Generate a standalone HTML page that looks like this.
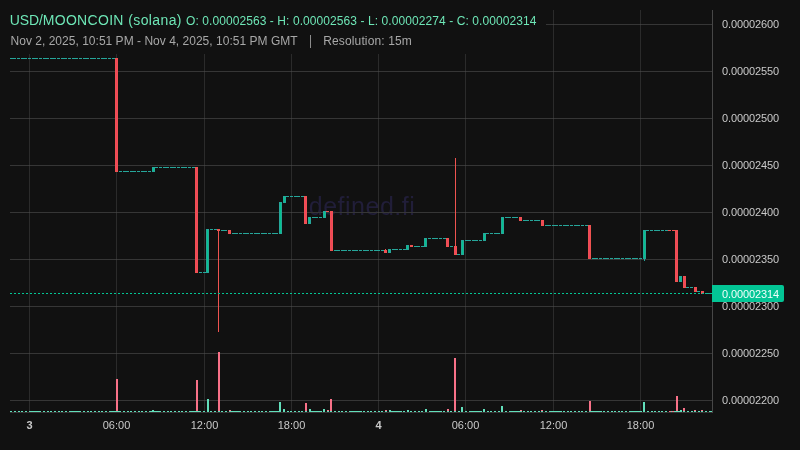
<!DOCTYPE html>
<html><head><meta charset="utf-8"><title>USD/MOONCOIN</title>
<style>
html,body{margin:0;padding:0;background:#111111;}
body{width:800px;height:450px;overflow:hidden;position:relative;font-family:"Liberation Sans",sans-serif;}
svg{position:absolute;left:0;top:0;}
#txt{position:absolute;left:0;top:0;width:800px;height:450px;will-change:transform;}
.t{position:absolute;white-space:nowrap;line-height:1;}
.pl{position:absolute;left:722px;width:60px;letter-spacing:-0.12px;font-size:11px;line-height:14px;height:14px;color:#c9c9c9;white-space:nowrap;}
.tl{position:absolute;top:418px;width:61px;text-align:center;font-size:11px;line-height:14px;color:#c9c9c9;white-space:nowrap;}
.tl.b{font-weight:bold;}
#wm{position:absolute;left:212px;top:191px;width:300px;text-align:center;font-size:25px;line-height:30px;color:#211e39;white-space:nowrap;letter-spacing:0.5px;will-change:transform;}
.h1{top:12px;font-size:14px;line-height:16px;color:#6ee7b7;}
#h1b{left:186px;top:13.5px;font-size:12px;line-height:14px;color:#6ee7b7;letter-spacing:0.08px;}
#h2{left:10.5px;top:33.5px;font-size:12px;line-height:14px;color:#a8a8a8;letter-spacing:0.02px;}
#res{left:323.2px;top:33.5px;font-size:12px;line-height:14px;color:#a8a8a8;letter-spacing:0.14px;}
#sep{position:absolute;left:310px;top:35px;width:1px;height:13px;background:#8c8c8c;}
#cur{position:absolute;left:722px;top:287px;letter-spacing:-0.12px;font-size:11px;line-height:14px;color:#f2fffb;white-space:nowrap;}
</style></head>
<body>
<div id="wm">defined.fi</div>
<svg width="800" height="450" viewBox="0 0 800 450" shape-rendering="crispEdges">
<rect x="29" y="10" width="1" height="402" fill="#2b2b2b"/>
<rect x="116" y="10" width="1" height="402" fill="#2b2b2b"/>
<rect x="204" y="10" width="1" height="402" fill="#2b2b2b"/>
<rect x="291" y="10" width="1" height="402" fill="#2b2b2b"/>
<rect x="378" y="10" width="1" height="402" fill="#2b2b2b"/>
<rect x="465" y="10" width="1" height="402" fill="#2b2b2b"/>
<rect x="553" y="10" width="1" height="402" fill="#2b2b2b"/>
<rect x="640" y="10" width="1" height="402" fill="#2b2b2b"/>
<rect x="10" y="24" width="702" height="1" fill="#363636"/>
<rect x="29" y="24" width="1" height="1" fill="#404040"/>
<rect x="116" y="24" width="1" height="1" fill="#404040"/>
<rect x="204" y="24" width="1" height="1" fill="#404040"/>
<rect x="291" y="24" width="1" height="1" fill="#404040"/>
<rect x="378" y="24" width="1" height="1" fill="#404040"/>
<rect x="465" y="24" width="1" height="1" fill="#404040"/>
<rect x="553" y="24" width="1" height="1" fill="#404040"/>
<rect x="640" y="24" width="1" height="1" fill="#404040"/>
<rect x="10" y="71" width="702" height="1" fill="#363636"/>
<rect x="29" y="71" width="1" height="1" fill="#404040"/>
<rect x="116" y="71" width="1" height="1" fill="#404040"/>
<rect x="204" y="71" width="1" height="1" fill="#404040"/>
<rect x="291" y="71" width="1" height="1" fill="#404040"/>
<rect x="378" y="71" width="1" height="1" fill="#404040"/>
<rect x="465" y="71" width="1" height="1" fill="#404040"/>
<rect x="553" y="71" width="1" height="1" fill="#404040"/>
<rect x="640" y="71" width="1" height="1" fill="#404040"/>
<rect x="10" y="118" width="702" height="1" fill="#363636"/>
<rect x="29" y="118" width="1" height="1" fill="#404040"/>
<rect x="116" y="118" width="1" height="1" fill="#404040"/>
<rect x="204" y="118" width="1" height="1" fill="#404040"/>
<rect x="291" y="118" width="1" height="1" fill="#404040"/>
<rect x="378" y="118" width="1" height="1" fill="#404040"/>
<rect x="465" y="118" width="1" height="1" fill="#404040"/>
<rect x="553" y="118" width="1" height="1" fill="#404040"/>
<rect x="640" y="118" width="1" height="1" fill="#404040"/>
<rect x="10" y="165" width="702" height="1" fill="#363636"/>
<rect x="29" y="165" width="1" height="1" fill="#404040"/>
<rect x="116" y="165" width="1" height="1" fill="#404040"/>
<rect x="204" y="165" width="1" height="1" fill="#404040"/>
<rect x="291" y="165" width="1" height="1" fill="#404040"/>
<rect x="378" y="165" width="1" height="1" fill="#404040"/>
<rect x="465" y="165" width="1" height="1" fill="#404040"/>
<rect x="553" y="165" width="1" height="1" fill="#404040"/>
<rect x="640" y="165" width="1" height="1" fill="#404040"/>
<rect x="10" y="212" width="702" height="1" fill="#363636"/>
<rect x="29" y="212" width="1" height="1" fill="#404040"/>
<rect x="116" y="212" width="1" height="1" fill="#404040"/>
<rect x="204" y="212" width="1" height="1" fill="#404040"/>
<rect x="291" y="212" width="1" height="1" fill="#404040"/>
<rect x="378" y="212" width="1" height="1" fill="#404040"/>
<rect x="465" y="212" width="1" height="1" fill="#404040"/>
<rect x="553" y="212" width="1" height="1" fill="#404040"/>
<rect x="640" y="212" width="1" height="1" fill="#404040"/>
<rect x="10" y="259" width="702" height="1" fill="#363636"/>
<rect x="29" y="259" width="1" height="1" fill="#404040"/>
<rect x="116" y="259" width="1" height="1" fill="#404040"/>
<rect x="204" y="259" width="1" height="1" fill="#404040"/>
<rect x="291" y="259" width="1" height="1" fill="#404040"/>
<rect x="378" y="259" width="1" height="1" fill="#404040"/>
<rect x="465" y="259" width="1" height="1" fill="#404040"/>
<rect x="553" y="259" width="1" height="1" fill="#404040"/>
<rect x="640" y="259" width="1" height="1" fill="#404040"/>
<rect x="10" y="306" width="702" height="1" fill="#363636"/>
<rect x="29" y="306" width="1" height="1" fill="#404040"/>
<rect x="116" y="306" width="1" height="1" fill="#404040"/>
<rect x="204" y="306" width="1" height="1" fill="#404040"/>
<rect x="291" y="306" width="1" height="1" fill="#404040"/>
<rect x="378" y="306" width="1" height="1" fill="#404040"/>
<rect x="465" y="306" width="1" height="1" fill="#404040"/>
<rect x="553" y="306" width="1" height="1" fill="#404040"/>
<rect x="640" y="306" width="1" height="1" fill="#404040"/>
<rect x="10" y="353" width="702" height="1" fill="#363636"/>
<rect x="29" y="353" width="1" height="1" fill="#404040"/>
<rect x="116" y="353" width="1" height="1" fill="#404040"/>
<rect x="204" y="353" width="1" height="1" fill="#404040"/>
<rect x="291" y="353" width="1" height="1" fill="#404040"/>
<rect x="378" y="353" width="1" height="1" fill="#404040"/>
<rect x="465" y="353" width="1" height="1" fill="#404040"/>
<rect x="553" y="353" width="1" height="1" fill="#404040"/>
<rect x="640" y="353" width="1" height="1" fill="#404040"/>
<rect x="10" y="400" width="702" height="1" fill="#363636"/>
<rect x="29" y="400" width="1" height="1" fill="#404040"/>
<rect x="116" y="400" width="1" height="1" fill="#404040"/>
<rect x="204" y="400" width="1" height="1" fill="#404040"/>
<rect x="291" y="400" width="1" height="1" fill="#404040"/>
<rect x="378" y="400" width="1" height="1" fill="#404040"/>
<rect x="465" y="400" width="1" height="1" fill="#404040"/>
<rect x="553" y="400" width="1" height="1" fill="#404040"/>
<rect x="640" y="400" width="1" height="1" fill="#404040"/>
<rect x="0" y="0" width="546" height="54" fill="#111111"/>
<rect x="10" y="411" width="2" height="1" fill="#62dfbb"/>
<rect x="14" y="411" width="2" height="1" fill="#62dfbb"/>
<rect x="18" y="411" width="2" height="1" fill="#62dfbb"/>
<rect x="21" y="411" width="2" height="1" fill="#62dfbb"/>
<rect x="25" y="411" width="2" height="1" fill="#62dfbb"/>
<rect x="29" y="411" width="3" height="1" fill="#62dfbb"/>
<rect x="32" y="411" width="4" height="1" fill="#62dfbb"/>
<rect x="36" y="411" width="3" height="1" fill="#62dfbb"/>
<rect x="39" y="411" width="2" height="1" fill="#62dfbb"/>
<rect x="43" y="411" width="2" height="1" fill="#62dfbb"/>
<rect x="47" y="411" width="2" height="1" fill="#62dfbb"/>
<rect x="50" y="411" width="2" height="1" fill="#62dfbb"/>
<rect x="54" y="411" width="2" height="1" fill="#62dfbb"/>
<rect x="58" y="411" width="2" height="1" fill="#62dfbb"/>
<rect x="61" y="411" width="2" height="1" fill="#62dfbb"/>
<rect x="65" y="411" width="2" height="1" fill="#62dfbb"/>
<rect x="69" y="411" width="3" height="1" fill="#62dfbb"/>
<rect x="72" y="411" width="4" height="1" fill="#62dfbb"/>
<rect x="76" y="411" width="3" height="1" fill="#62dfbb"/>
<rect x="79" y="411" width="2" height="1" fill="#62dfbb"/>
<rect x="83" y="411" width="2" height="1" fill="#62dfbb"/>
<rect x="87" y="411" width="2" height="1" fill="#62dfbb"/>
<rect x="90" y="411" width="2" height="1" fill="#62dfbb"/>
<rect x="94" y="411" width="2" height="1" fill="#62dfbb"/>
<rect x="98" y="411" width="2" height="1" fill="#62dfbb"/>
<rect x="101" y="411" width="2" height="1" fill="#62dfbb"/>
<rect x="105" y="411" width="2" height="1" fill="#62dfbb"/>
<rect x="109" y="411" width="3" height="1" fill="#62dfbb"/>
<rect x="112" y="411" width="4" height="1" fill="#62dfbb"/>
<rect x="116" y="411" width="3" height="1" fill="#62dfbb"/>
<rect x="119" y="411" width="2" height="1" fill="#62dfbb"/>
<rect x="123" y="411" width="2" height="1" fill="#62dfbb"/>
<rect x="127" y="411" width="2" height="1" fill="#62dfbb"/>
<rect x="130" y="411" width="2" height="1" fill="#62dfbb"/>
<rect x="134" y="411" width="2" height="1" fill="#62dfbb"/>
<rect x="138" y="411" width="2" height="1" fill="#62dfbb"/>
<rect x="141" y="411" width="2" height="1" fill="#62dfbb"/>
<rect x="145" y="411" width="2" height="1" fill="#62dfbb"/>
<rect x="149" y="411" width="3" height="1" fill="#62dfbb"/>
<rect x="152" y="411" width="4" height="1" fill="#62dfbb"/>
<rect x="156" y="411" width="3" height="1" fill="#62dfbb"/>
<rect x="159" y="411" width="2" height="1" fill="#62dfbb"/>
<rect x="163" y="411" width="2" height="1" fill="#62dfbb"/>
<rect x="167" y="411" width="2" height="1" fill="#62dfbb"/>
<rect x="170" y="411" width="2" height="1" fill="#62dfbb"/>
<rect x="174" y="411" width="2" height="1" fill="#62dfbb"/>
<rect x="178" y="411" width="2" height="1" fill="#62dfbb"/>
<rect x="181" y="411" width="2" height="1" fill="#62dfbb"/>
<rect x="185" y="411" width="2" height="1" fill="#62dfbb"/>
<rect x="189" y="411" width="3" height="1" fill="#62dfbb"/>
<rect x="192" y="411" width="4" height="1" fill="#62dfbb"/>
<rect x="196" y="411" width="3" height="1" fill="#62dfbb"/>
<rect x="199" y="411" width="2" height="1" fill="#62dfbb"/>
<rect x="203" y="411" width="2" height="1" fill="#62dfbb"/>
<rect x="207" y="411" width="2" height="1" fill="#62dfbb"/>
<rect x="210" y="411" width="2" height="1" fill="#62dfbb"/>
<rect x="214" y="411" width="2" height="1" fill="#62dfbb"/>
<rect x="218" y="411" width="2" height="1" fill="#62dfbb"/>
<rect x="221" y="411" width="2" height="1" fill="#62dfbb"/>
<rect x="225" y="411" width="2" height="1" fill="#62dfbb"/>
<rect x="229" y="411" width="3" height="1" fill="#62dfbb"/>
<rect x="232" y="411" width="4" height="1" fill="#62dfbb"/>
<rect x="236" y="411" width="3" height="1" fill="#62dfbb"/>
<rect x="239" y="411" width="2" height="1" fill="#62dfbb"/>
<rect x="243" y="411" width="2" height="1" fill="#62dfbb"/>
<rect x="247" y="411" width="2" height="1" fill="#62dfbb"/>
<rect x="250" y="411" width="2" height="1" fill="#62dfbb"/>
<rect x="254" y="411" width="2" height="1" fill="#62dfbb"/>
<rect x="258" y="411" width="2" height="1" fill="#62dfbb"/>
<rect x="261" y="411" width="2" height="1" fill="#62dfbb"/>
<rect x="265" y="411" width="2" height="1" fill="#62dfbb"/>
<rect x="269" y="411" width="3" height="1" fill="#62dfbb"/>
<rect x="272" y="411" width="4" height="1" fill="#62dfbb"/>
<rect x="276" y="411" width="3" height="1" fill="#62dfbb"/>
<rect x="279" y="411" width="2" height="1" fill="#62dfbb"/>
<rect x="283" y="411" width="2" height="1" fill="#62dfbb"/>
<rect x="287" y="411" width="2" height="1" fill="#62dfbb"/>
<rect x="290" y="411" width="2" height="1" fill="#62dfbb"/>
<rect x="294" y="411" width="2" height="1" fill="#62dfbb"/>
<rect x="298" y="411" width="2" height="1" fill="#62dfbb"/>
<rect x="301" y="411" width="2" height="1" fill="#62dfbb"/>
<rect x="305" y="411" width="2" height="1" fill="#62dfbb"/>
<rect x="309" y="411" width="3" height="1" fill="#62dfbb"/>
<rect x="312" y="411" width="4" height="1" fill="#62dfbb"/>
<rect x="316" y="411" width="4" height="1" fill="#62dfbb"/>
<rect x="320" y="411" width="2" height="1" fill="#62dfbb"/>
<rect x="323" y="411" width="2" height="1" fill="#62dfbb"/>
<rect x="327" y="411" width="2" height="1" fill="#62dfbb"/>
<rect x="330" y="411" width="2" height="1" fill="#62dfbb"/>
<rect x="334" y="411" width="2" height="1" fill="#62dfbb"/>
<rect x="338" y="411" width="2" height="1" fill="#62dfbb"/>
<rect x="341" y="411" width="2" height="1" fill="#62dfbb"/>
<rect x="345" y="411" width="2" height="1" fill="#62dfbb"/>
<rect x="349" y="411" width="3" height="1" fill="#62dfbb"/>
<rect x="352" y="411" width="4" height="1" fill="#62dfbb"/>
<rect x="356" y="411" width="4" height="1" fill="#62dfbb"/>
<rect x="360" y="411" width="2" height="1" fill="#62dfbb"/>
<rect x="363" y="411" width="2" height="1" fill="#62dfbb"/>
<rect x="367" y="411" width="2" height="1" fill="#62dfbb"/>
<rect x="370" y="411" width="2" height="1" fill="#62dfbb"/>
<rect x="374" y="411" width="2" height="1" fill="#62dfbb"/>
<rect x="378" y="411" width="2" height="1" fill="#62dfbb"/>
<rect x="381" y="411" width="2" height="1" fill="#62dfbb"/>
<rect x="385" y="411" width="2" height="1" fill="#62dfbb"/>
<rect x="389" y="411" width="3" height="1" fill="#62dfbb"/>
<rect x="392" y="411" width="4" height="1" fill="#62dfbb"/>
<rect x="396" y="411" width="4" height="1" fill="#62dfbb"/>
<rect x="400" y="411" width="2" height="1" fill="#62dfbb"/>
<rect x="403" y="411" width="2" height="1" fill="#62dfbb"/>
<rect x="407" y="411" width="2" height="1" fill="#62dfbb"/>
<rect x="410" y="411" width="2" height="1" fill="#62dfbb"/>
<rect x="414" y="411" width="2" height="1" fill="#62dfbb"/>
<rect x="418" y="411" width="2" height="1" fill="#62dfbb"/>
<rect x="421" y="411" width="2" height="1" fill="#62dfbb"/>
<rect x="425" y="411" width="2" height="1" fill="#62dfbb"/>
<rect x="429" y="411" width="3" height="1" fill="#62dfbb"/>
<rect x="432" y="411" width="4" height="1" fill="#62dfbb"/>
<rect x="436" y="411" width="4" height="1" fill="#62dfbb"/>
<rect x="440" y="411" width="2" height="1" fill="#62dfbb"/>
<rect x="443" y="411" width="2" height="1" fill="#62dfbb"/>
<rect x="447" y="411" width="2" height="1" fill="#62dfbb"/>
<rect x="450" y="411" width="2" height="1" fill="#62dfbb"/>
<rect x="454" y="411" width="2" height="1" fill="#62dfbb"/>
<rect x="458" y="411" width="2" height="1" fill="#62dfbb"/>
<rect x="461" y="411" width="2" height="1" fill="#62dfbb"/>
<rect x="465" y="411" width="2" height="1" fill="#62dfbb"/>
<rect x="469" y="411" width="3" height="1" fill="#62dfbb"/>
<rect x="472" y="411" width="4" height="1" fill="#62dfbb"/>
<rect x="476" y="411" width="4" height="1" fill="#62dfbb"/>
<rect x="480" y="411" width="2" height="1" fill="#62dfbb"/>
<rect x="483" y="411" width="2" height="1" fill="#62dfbb"/>
<rect x="487" y="411" width="2" height="1" fill="#62dfbb"/>
<rect x="490" y="411" width="2" height="1" fill="#62dfbb"/>
<rect x="494" y="411" width="2" height="1" fill="#62dfbb"/>
<rect x="498" y="411" width="2" height="1" fill="#62dfbb"/>
<rect x="501" y="411" width="2" height="1" fill="#62dfbb"/>
<rect x="505" y="411" width="2" height="1" fill="#62dfbb"/>
<rect x="509" y="411" width="3" height="1" fill="#62dfbb"/>
<rect x="512" y="411" width="4" height="1" fill="#62dfbb"/>
<rect x="516" y="411" width="4" height="1" fill="#62dfbb"/>
<rect x="520" y="411" width="2" height="1" fill="#62dfbb"/>
<rect x="523" y="411" width="2" height="1" fill="#62dfbb"/>
<rect x="527" y="411" width="2" height="1" fill="#62dfbb"/>
<rect x="530" y="411" width="2" height="1" fill="#62dfbb"/>
<rect x="534" y="411" width="2" height="1" fill="#62dfbb"/>
<rect x="538" y="411" width="2" height="1" fill="#62dfbb"/>
<rect x="541" y="411" width="2" height="1" fill="#62dfbb"/>
<rect x="545" y="411" width="2" height="1" fill="#62dfbb"/>
<rect x="549" y="411" width="3" height="1" fill="#62dfbb"/>
<rect x="552" y="411" width="4" height="1" fill="#62dfbb"/>
<rect x="556" y="411" width="4" height="1" fill="#62dfbb"/>
<rect x="560" y="411" width="2" height="1" fill="#62dfbb"/>
<rect x="563" y="411" width="2" height="1" fill="#62dfbb"/>
<rect x="567" y="411" width="2" height="1" fill="#62dfbb"/>
<rect x="570" y="411" width="2" height="1" fill="#62dfbb"/>
<rect x="574" y="411" width="2" height="1" fill="#62dfbb"/>
<rect x="578" y="411" width="2" height="1" fill="#62dfbb"/>
<rect x="581" y="411" width="2" height="1" fill="#62dfbb"/>
<rect x="585" y="411" width="2" height="1" fill="#62dfbb"/>
<rect x="589" y="411" width="3" height="1" fill="#62dfbb"/>
<rect x="592" y="411" width="4" height="1" fill="#62dfbb"/>
<rect x="596" y="411" width="4" height="1" fill="#62dfbb"/>
<rect x="600" y="411" width="2" height="1" fill="#62dfbb"/>
<rect x="603" y="411" width="2" height="1" fill="#62dfbb"/>
<rect x="607" y="411" width="2" height="1" fill="#62dfbb"/>
<rect x="611" y="411" width="2" height="1" fill="#62dfbb"/>
<rect x="614" y="411" width="2" height="1" fill="#62dfbb"/>
<rect x="618" y="411" width="2" height="1" fill="#62dfbb"/>
<rect x="621" y="411" width="2" height="1" fill="#62dfbb"/>
<rect x="625" y="411" width="2" height="1" fill="#62dfbb"/>
<rect x="629" y="411" width="3" height="1" fill="#62dfbb"/>
<rect x="632" y="411" width="4" height="1" fill="#62dfbb"/>
<rect x="636" y="411" width="4" height="1" fill="#62dfbb"/>
<rect x="640" y="411" width="2" height="1" fill="#62dfbb"/>
<rect x="643" y="411" width="2" height="1" fill="#62dfbb"/>
<rect x="647" y="411" width="2" height="1" fill="#62dfbb"/>
<rect x="651" y="411" width="2" height="1" fill="#62dfbb"/>
<rect x="654" y="411" width="2" height="1" fill="#62dfbb"/>
<rect x="658" y="411" width="2" height="1" fill="#62dfbb"/>
<rect x="661" y="411" width="2" height="1" fill="#62dfbb"/>
<rect x="665" y="411" width="2" height="1" fill="#62dfbb"/>
<rect x="669" y="411" width="3" height="1" fill="#62dfbb"/>
<rect x="672" y="411" width="4" height="1" fill="#62dfbb"/>
<rect x="676" y="411" width="4" height="1" fill="#62dfbb"/>
<rect x="680" y="411" width="2" height="1" fill="#62dfbb"/>
<rect x="683" y="411" width="2" height="1" fill="#62dfbb"/>
<rect x="687" y="411" width="2" height="1" fill="#62dfbb"/>
<rect x="691" y="411" width="2" height="1" fill="#62dfbb"/>
<rect x="694" y="411" width="2" height="1" fill="#62dfbb"/>
<rect x="698" y="411" width="2" height="1" fill="#62dfbb"/>
<rect x="701" y="411" width="2" height="1" fill="#62dfbb"/>
<rect x="705" y="411" width="2" height="1" fill="#62dfbb"/>
<rect x="709" y="411" width="3" height="1" fill="#62dfbb"/>
<rect x="116" y="379" width="2" height="32" fill="#f87188"/>
<rect x="152" y="410" width="2" height="1" fill="#62dfbb"/>
<rect x="196" y="380" width="2" height="31" fill="#f87188"/>
<rect x="207" y="399" width="2" height="12" fill="#62dfbb"/>
<rect x="218" y="352" width="2" height="59" fill="#f87188"/>
<rect x="229" y="410" width="2" height="1" fill="#f87188"/>
<rect x="279" y="402" width="2" height="9" fill="#62dfbb"/>
<rect x="283" y="409" width="2" height="2" fill="#62dfbb"/>
<rect x="305" y="403" width="2" height="8" fill="#f87188"/>
<rect x="309" y="409" width="2" height="2" fill="#62dfbb"/>
<rect x="323" y="409" width="2" height="2" fill="#62dfbb"/>
<rect x="327" y="410" width="2" height="1" fill="#f87188"/>
<rect x="330" y="399" width="2" height="12" fill="#f87188"/>
<rect x="385" y="410" width="2" height="1" fill="#f87188"/>
<rect x="389" y="410" width="2" height="1" fill="#62dfbb"/>
<rect x="407" y="410" width="2" height="1" fill="#62dfbb"/>
<rect x="425" y="409" width="2" height="2" fill="#62dfbb"/>
<rect x="447" y="409" width="2" height="2" fill="#f87188"/>
<rect x="454" y="358" width="2" height="53" fill="#f87188"/>
<rect x="461" y="407" width="2" height="4" fill="#62dfbb"/>
<rect x="483" y="409" width="2" height="2" fill="#62dfbb"/>
<rect x="501" y="406" width="2" height="5" fill="#62dfbb"/>
<rect x="520" y="410" width="2" height="1" fill="#f87188"/>
<rect x="541" y="410" width="2" height="1" fill="#f87188"/>
<rect x="589" y="401" width="2" height="10" fill="#f87188"/>
<rect x="643" y="402" width="2" height="9" fill="#62dfbb"/>
<rect x="669" y="411" width="2" height="1" fill="#f87188"/>
<rect x="672" y="411" width="2" height="1" fill="#f87188"/>
<rect x="676" y="396" width="2" height="15" fill="#f87188"/>
<rect x="680" y="410" width="2" height="1" fill="#62dfbb"/>
<rect x="683" y="408" width="2" height="3" fill="#f87188"/>
<rect x="694" y="410" width="2" height="1" fill="#f87188"/>
<rect x="701" y="410" width="2" height="1" fill="#f87188"/>
<rect x="10" y="58" width="3" height="1" fill="#26a69a"/>
<rect x="13" y="58" width="3" height="1" fill="#26a69a"/>
<rect x="17" y="58" width="3" height="1" fill="#26a69a"/>
<rect x="21" y="58" width="3" height="1" fill="#26a69a"/>
<rect x="24" y="58" width="3" height="1" fill="#26a69a"/>
<rect x="28" y="58" width="3" height="1" fill="#26a69a"/>
<rect x="32" y="58" width="3" height="1" fill="#26a69a"/>
<rect x="35" y="58" width="3" height="1" fill="#26a69a"/>
<rect x="39" y="58" width="3" height="1" fill="#26a69a"/>
<rect x="43" y="58" width="3" height="1" fill="#26a69a"/>
<rect x="46" y="58" width="3" height="1" fill="#26a69a"/>
<rect x="50" y="58" width="3" height="1" fill="#26a69a"/>
<rect x="53" y="58" width="3" height="1" fill="#26a69a"/>
<rect x="57" y="58" width="3" height="1" fill="#26a69a"/>
<rect x="61" y="58" width="3" height="1" fill="#26a69a"/>
<rect x="64" y="58" width="3" height="1" fill="#26a69a"/>
<rect x="68" y="58" width="3" height="1" fill="#26a69a"/>
<rect x="72" y="58" width="3" height="1" fill="#26a69a"/>
<rect x="75" y="58" width="3" height="1" fill="#26a69a"/>
<rect x="79" y="58" width="3" height="1" fill="#26a69a"/>
<rect x="83" y="58" width="3" height="1" fill="#26a69a"/>
<rect x="86" y="58" width="3" height="1" fill="#26a69a"/>
<rect x="90" y="58" width="3" height="1" fill="#26a69a"/>
<rect x="93" y="58" width="3" height="1" fill="#26a69a"/>
<rect x="97" y="58" width="3" height="1" fill="#26a69a"/>
<rect x="101" y="58" width="3" height="1" fill="#26a69a"/>
<rect x="104" y="58" width="3" height="1" fill="#26a69a"/>
<rect x="108" y="58" width="3" height="1" fill="#26a69a"/>
<rect x="112" y="58" width="3" height="1" fill="#26a69a"/>
<rect x="119" y="171" width="3" height="1" fill="#26a69a"/>
<rect x="123" y="171" width="3" height="1" fill="#26a69a"/>
<rect x="126" y="171" width="3" height="1" fill="#26a69a"/>
<rect x="130" y="171" width="3" height="1" fill="#26a69a"/>
<rect x="133" y="171" width="3" height="1" fill="#26a69a"/>
<rect x="137" y="171" width="3" height="1" fill="#26a69a"/>
<rect x="141" y="171" width="3" height="1" fill="#26a69a"/>
<rect x="144" y="171" width="3" height="1" fill="#26a69a"/>
<rect x="148" y="171" width="3" height="1" fill="#26a69a"/>
<rect x="155" y="167" width="3" height="1" fill="#26a69a"/>
<rect x="159" y="167" width="3" height="1" fill="#26a69a"/>
<rect x="163" y="167" width="3" height="1" fill="#26a69a"/>
<rect x="166" y="167" width="3" height="1" fill="#26a69a"/>
<rect x="170" y="167" width="3" height="1" fill="#26a69a"/>
<rect x="173" y="167" width="3" height="1" fill="#26a69a"/>
<rect x="177" y="167" width="3" height="1" fill="#26a69a"/>
<rect x="181" y="167" width="3" height="1" fill="#26a69a"/>
<rect x="184" y="167" width="3" height="1" fill="#26a69a"/>
<rect x="188" y="167" width="3" height="1" fill="#26a69a"/>
<rect x="192" y="167" width="3" height="1" fill="#26a69a"/>
<rect x="199" y="272" width="3" height="1" fill="#26a69a"/>
<rect x="203" y="272" width="3" height="1" fill="#26a69a"/>
<rect x="210" y="229" width="3" height="1" fill="#26a69a"/>
<rect x="214" y="229" width="3" height="1" fill="#26a69a"/>
<rect x="221" y="230" width="3" height="1" fill="#26a69a"/>
<rect x="224" y="230" width="3" height="1" fill="#26a69a"/>
<rect x="232" y="233" width="3" height="1" fill="#26a69a"/>
<rect x="235" y="233" width="3" height="1" fill="#26a69a"/>
<rect x="239" y="233" width="3" height="1" fill="#26a69a"/>
<rect x="243" y="233" width="3" height="1" fill="#26a69a"/>
<rect x="246" y="233" width="3" height="1" fill="#26a69a"/>
<rect x="250" y="233" width="3" height="1" fill="#26a69a"/>
<rect x="254" y="233" width="3" height="1" fill="#26a69a"/>
<rect x="257" y="233" width="3" height="1" fill="#26a69a"/>
<rect x="261" y="233" width="3" height="1" fill="#26a69a"/>
<rect x="264" y="233" width="3" height="1" fill="#26a69a"/>
<rect x="268" y="233" width="3" height="1" fill="#26a69a"/>
<rect x="272" y="233" width="3" height="1" fill="#26a69a"/>
<rect x="275" y="233" width="3" height="1" fill="#26a69a"/>
<rect x="286" y="196" width="3" height="1" fill="#26a69a"/>
<rect x="290" y="196" width="3" height="1" fill="#26a69a"/>
<rect x="294" y="196" width="3" height="1" fill="#26a69a"/>
<rect x="297" y="196" width="3" height="1" fill="#26a69a"/>
<rect x="301" y="196" width="3" height="1" fill="#26a69a"/>
<rect x="312" y="217" width="3" height="1" fill="#26a69a"/>
<rect x="315" y="217" width="3" height="1" fill="#26a69a"/>
<rect x="319" y="217" width="3" height="1" fill="#26a69a"/>
<rect x="326" y="211" width="3" height="1" fill="#ef5350"/>
<rect x="334" y="250" width="3" height="1" fill="#26a69a"/>
<rect x="337" y="250" width="3" height="1" fill="#26a69a"/>
<rect x="341" y="250" width="3" height="1" fill="#26a69a"/>
<rect x="344" y="250" width="3" height="1" fill="#26a69a"/>
<rect x="348" y="250" width="3" height="1" fill="#26a69a"/>
<rect x="352" y="250" width="3" height="1" fill="#26a69a"/>
<rect x="355" y="250" width="3" height="1" fill="#26a69a"/>
<rect x="359" y="250" width="3" height="1" fill="#26a69a"/>
<rect x="363" y="250" width="3" height="1" fill="#26a69a"/>
<rect x="366" y="250" width="3" height="1" fill="#26a69a"/>
<rect x="370" y="250" width="3" height="1" fill="#26a69a"/>
<rect x="374" y="250" width="3" height="1" fill="#26a69a"/>
<rect x="377" y="250" width="3" height="1" fill="#26a69a"/>
<rect x="381" y="250" width="3" height="1" fill="#26a69a"/>
<rect x="392" y="249" width="3" height="1" fill="#26a69a"/>
<rect x="395" y="249" width="3" height="1" fill="#26a69a"/>
<rect x="399" y="249" width="3" height="1" fill="#26a69a"/>
<rect x="403" y="249" width="3" height="1" fill="#26a69a"/>
<rect x="414" y="246" width="3" height="1" fill="#26a69a"/>
<rect x="417" y="246" width="3" height="1" fill="#26a69a"/>
<rect x="421" y="246" width="3" height="1" fill="#26a69a"/>
<rect x="428" y="238" width="3" height="1" fill="#26a69a"/>
<rect x="432" y="238" width="3" height="1" fill="#26a69a"/>
<rect x="435" y="238" width="3" height="1" fill="#26a69a"/>
<rect x="439" y="238" width="3" height="1" fill="#26a69a"/>
<rect x="443" y="238" width="3" height="1" fill="#26a69a"/>
<rect x="450" y="246" width="3" height="1" fill="#26a69a"/>
<rect x="457" y="254" width="3" height="1" fill="#26a69a"/>
<rect x="465" y="240" width="3" height="1" fill="#26a69a"/>
<rect x="468" y="240" width="3" height="1" fill="#26a69a"/>
<rect x="472" y="240" width="3" height="1" fill="#26a69a"/>
<rect x="475" y="240" width="3" height="1" fill="#26a69a"/>
<rect x="479" y="240" width="3" height="1" fill="#26a69a"/>
<rect x="486" y="233" width="3" height="1" fill="#26a69a"/>
<rect x="490" y="233" width="3" height="1" fill="#26a69a"/>
<rect x="494" y="233" width="3" height="1" fill="#26a69a"/>
<rect x="497" y="233" width="3" height="1" fill="#26a69a"/>
<rect x="505" y="217" width="3" height="1" fill="#26a69a"/>
<rect x="508" y="217" width="3" height="1" fill="#26a69a"/>
<rect x="512" y="217" width="3" height="1" fill="#26a69a"/>
<rect x="515" y="217" width="3" height="1" fill="#26a69a"/>
<rect x="523" y="220" width="3" height="1" fill="#26a69a"/>
<rect x="526" y="220" width="3" height="1" fill="#26a69a"/>
<rect x="530" y="220" width="3" height="1" fill="#26a69a"/>
<rect x="534" y="220" width="3" height="1" fill="#26a69a"/>
<rect x="537" y="220" width="3" height="1" fill="#26a69a"/>
<rect x="545" y="225" width="3" height="1" fill="#26a69a"/>
<rect x="548" y="225" width="3" height="1" fill="#26a69a"/>
<rect x="552" y="225" width="3" height="1" fill="#26a69a"/>
<rect x="555" y="225" width="3" height="1" fill="#26a69a"/>
<rect x="559" y="225" width="3" height="1" fill="#26a69a"/>
<rect x="563" y="225" width="3" height="1" fill="#26a69a"/>
<rect x="566" y="225" width="3" height="1" fill="#26a69a"/>
<rect x="570" y="225" width="3" height="1" fill="#26a69a"/>
<rect x="574" y="225" width="3" height="1" fill="#26a69a"/>
<rect x="577" y="225" width="3" height="1" fill="#26a69a"/>
<rect x="581" y="225" width="3" height="1" fill="#26a69a"/>
<rect x="585" y="225" width="3" height="1" fill="#26a69a"/>
<rect x="592" y="258" width="3" height="1" fill="#26a69a"/>
<rect x="595" y="258" width="3" height="1" fill="#26a69a"/>
<rect x="599" y="258" width="3" height="1" fill="#26a69a"/>
<rect x="603" y="258" width="3" height="1" fill="#26a69a"/>
<rect x="606" y="258" width="3" height="1" fill="#26a69a"/>
<rect x="610" y="258" width="3" height="1" fill="#26a69a"/>
<rect x="614" y="258" width="3" height="1" fill="#26a69a"/>
<rect x="617" y="258" width="3" height="1" fill="#26a69a"/>
<rect x="621" y="258" width="3" height="1" fill="#26a69a"/>
<rect x="625" y="258" width="3" height="1" fill="#26a69a"/>
<rect x="628" y="258" width="3" height="1" fill="#26a69a"/>
<rect x="632" y="258" width="3" height="1" fill="#26a69a"/>
<rect x="635" y="258" width="3" height="1" fill="#26a69a"/>
<rect x="639" y="258" width="3" height="1" fill="#26a69a"/>
<rect x="646" y="230" width="3" height="1" fill="#26a69a"/>
<rect x="650" y="230" width="3" height="1" fill="#26a69a"/>
<rect x="654" y="230" width="3" height="1" fill="#26a69a"/>
<rect x="657" y="230" width="3" height="1" fill="#26a69a"/>
<rect x="661" y="230" width="3" height="1" fill="#26a69a"/>
<rect x="665" y="230" width="3" height="1" fill="#26a69a"/>
<rect x="668" y="230" width="3" height="1" fill="#ef5350"/>
<rect x="672" y="230" width="3" height="1" fill="#ef5350"/>
<rect x="686" y="287" width="3" height="1" fill="#26a69a"/>
<rect x="690" y="287" width="3" height="1" fill="#26a69a"/>
<rect x="697" y="291" width="3" height="1" fill="#26a69a"/>
<rect x="705" y="293" width="3" height="1" fill="#26a69a"/>
<rect x="708" y="293" width="3" height="1" fill="#26a69a"/>
<rect x="115" y="58" width="3" height="114" fill="#ef5350"/>
<rect x="116" y="59" width="1" height="112" fill="#f0445f"/>
<rect x="152" y="167" width="3" height="5" fill="#26a69a"/>
<rect x="153" y="168" width="1" height="3" fill="#03c48d"/>
<rect x="195" y="167" width="3" height="106" fill="#ef5350"/>
<rect x="196" y="168" width="1" height="104" fill="#f0445f"/>
<rect x="206" y="229" width="3" height="44" fill="#26a69a"/>
<rect x="207" y="230" width="1" height="42" fill="#03c48d"/>
<rect x="218" y="231" width="1" height="101" fill="#ef5350"/>
<rect x="217" y="229" width="3" height="2" fill="#ef5350"/>
<rect x="228" y="230" width="3" height="4" fill="#ef5350"/>
<rect x="229" y="231" width="1" height="2" fill="#f0445f"/>
<rect x="279" y="202" width="3" height="32" fill="#26a69a"/>
<rect x="280" y="203" width="1" height="30" fill="#03c48d"/>
<rect x="283" y="196" width="3" height="7" fill="#26a69a"/>
<rect x="284" y="197" width="1" height="5" fill="#03c48d"/>
<rect x="304" y="196" width="3" height="28" fill="#ef5350"/>
<rect x="305" y="197" width="1" height="26" fill="#f0445f"/>
<rect x="308" y="217" width="3" height="7" fill="#26a69a"/>
<rect x="309" y="218" width="1" height="5" fill="#03c48d"/>
<rect x="323" y="211" width="3" height="7" fill="#26a69a"/>
<rect x="324" y="212" width="1" height="5" fill="#03c48d"/>
<rect x="330" y="211" width="3" height="40" fill="#ef5350"/>
<rect x="331" y="212" width="1" height="38" fill="#f0445f"/>
<rect x="385" y="249" width="1" height="1" fill="#ef5350"/>
<rect x="384" y="250" width="3" height="3" fill="#ef5350"/>
<rect x="385" y="251" width="1" height="1" fill="#f0445f"/>
<rect x="388" y="249" width="3" height="4" fill="#26a69a"/>
<rect x="389" y="250" width="1" height="2" fill="#03c48d"/>
<rect x="406" y="245" width="3" height="5" fill="#26a69a"/>
<rect x="407" y="246" width="1" height="3" fill="#03c48d"/>
<rect x="410" y="245" width="3" height="2" fill="#ef5350"/>
<rect x="424" y="238" width="3" height="9" fill="#26a69a"/>
<rect x="425" y="239" width="1" height="7" fill="#03c48d"/>
<rect x="446" y="238" width="3" height="9" fill="#ef5350"/>
<rect x="447" y="239" width="1" height="7" fill="#f0445f"/>
<rect x="455" y="158" width="1" height="88" fill="#ef5350"/>
<rect x="454" y="246" width="3" height="9" fill="#ef5350"/>
<rect x="455" y="247" width="1" height="7" fill="#f0445f"/>
<rect x="461" y="240" width="3" height="15" fill="#26a69a"/>
<rect x="462" y="241" width="1" height="13" fill="#03c48d"/>
<rect x="483" y="233" width="3" height="8" fill="#26a69a"/>
<rect x="484" y="234" width="1" height="6" fill="#03c48d"/>
<rect x="501" y="217" width="3" height="17" fill="#26a69a"/>
<rect x="502" y="218" width="1" height="15" fill="#03c48d"/>
<rect x="519" y="217" width="3" height="4" fill="#ef5350"/>
<rect x="520" y="218" width="1" height="2" fill="#f0445f"/>
<rect x="541" y="220" width="3" height="6" fill="#ef5350"/>
<rect x="542" y="221" width="1" height="4" fill="#f0445f"/>
<rect x="588" y="225" width="3" height="34" fill="#ef5350"/>
<rect x="589" y="226" width="1" height="32" fill="#f0445f"/>
<rect x="644" y="259" width="1" height="2" fill="#26a69a"/>
<rect x="643" y="230" width="3" height="29" fill="#26a69a"/>
<rect x="644" y="231" width="1" height="27" fill="#03c48d"/>
<rect x="675" y="230" width="3" height="52" fill="#ef5350"/>
<rect x="676" y="231" width="1" height="50" fill="#f0445f"/>
<rect x="679" y="276" width="3" height="6" fill="#26a69a"/>
<rect x="680" y="277" width="1" height="4" fill="#03c48d"/>
<rect x="683" y="276" width="3" height="12" fill="#ef5350"/>
<rect x="684" y="277" width="1" height="10" fill="#f0445f"/>
<rect x="694" y="287" width="3" height="5" fill="#ef5350"/>
<rect x="695" y="288" width="1" height="3" fill="#f0445f"/>
<rect x="701" y="291" width="3" height="3" fill="#ef5350"/>
<rect x="702" y="292" width="1" height="1" fill="#f0445f"/>
<rect x="10" y="293" width="2" height="1" fill="#03c595"/>
<rect x="14" y="293" width="2" height="1" fill="#03c595"/>
<rect x="18" y="293" width="2" height="1" fill="#03c595"/>
<rect x="22" y="293" width="2" height="1" fill="#03c595"/>
<rect x="26" y="293" width="2" height="1" fill="#03c595"/>
<rect x="30" y="293" width="2" height="1" fill="#03c595"/>
<rect x="34" y="293" width="2" height="1" fill="#03c595"/>
<rect x="38" y="293" width="2" height="1" fill="#03c595"/>
<rect x="42" y="293" width="2" height="1" fill="#03c595"/>
<rect x="46" y="293" width="2" height="1" fill="#03c595"/>
<rect x="50" y="293" width="2" height="1" fill="#03c595"/>
<rect x="54" y="293" width="2" height="1" fill="#03c595"/>
<rect x="58" y="293" width="2" height="1" fill="#03c595"/>
<rect x="62" y="293" width="2" height="1" fill="#03c595"/>
<rect x="66" y="293" width="2" height="1" fill="#03c595"/>
<rect x="70" y="293" width="2" height="1" fill="#03c595"/>
<rect x="74" y="293" width="2" height="1" fill="#03c595"/>
<rect x="78" y="293" width="2" height="1" fill="#03c595"/>
<rect x="82" y="293" width="2" height="1" fill="#03c595"/>
<rect x="86" y="293" width="2" height="1" fill="#03c595"/>
<rect x="90" y="293" width="2" height="1" fill="#03c595"/>
<rect x="94" y="293" width="2" height="1" fill="#03c595"/>
<rect x="98" y="293" width="2" height="1" fill="#03c595"/>
<rect x="102" y="293" width="2" height="1" fill="#03c595"/>
<rect x="106" y="293" width="2" height="1" fill="#03c595"/>
<rect x="110" y="293" width="2" height="1" fill="#03c595"/>
<rect x="114" y="293" width="2" height="1" fill="#03c595"/>
<rect x="118" y="293" width="2" height="1" fill="#03c595"/>
<rect x="122" y="293" width="2" height="1" fill="#03c595"/>
<rect x="126" y="293" width="2" height="1" fill="#03c595"/>
<rect x="130" y="293" width="2" height="1" fill="#03c595"/>
<rect x="134" y="293" width="2" height="1" fill="#03c595"/>
<rect x="138" y="293" width="2" height="1" fill="#03c595"/>
<rect x="142" y="293" width="2" height="1" fill="#03c595"/>
<rect x="146" y="293" width="2" height="1" fill="#03c595"/>
<rect x="150" y="293" width="2" height="1" fill="#03c595"/>
<rect x="154" y="293" width="2" height="1" fill="#03c595"/>
<rect x="158" y="293" width="2" height="1" fill="#03c595"/>
<rect x="162" y="293" width="2" height="1" fill="#03c595"/>
<rect x="166" y="293" width="2" height="1" fill="#03c595"/>
<rect x="170" y="293" width="2" height="1" fill="#03c595"/>
<rect x="174" y="293" width="2" height="1" fill="#03c595"/>
<rect x="178" y="293" width="2" height="1" fill="#03c595"/>
<rect x="182" y="293" width="2" height="1" fill="#03c595"/>
<rect x="186" y="293" width="2" height="1" fill="#03c595"/>
<rect x="190" y="293" width="2" height="1" fill="#03c595"/>
<rect x="194" y="293" width="2" height="1" fill="#03c595"/>
<rect x="198" y="293" width="2" height="1" fill="#03c595"/>
<rect x="202" y="293" width="2" height="1" fill="#03c595"/>
<rect x="206" y="293" width="2" height="1" fill="#03c595"/>
<rect x="210" y="293" width="2" height="1" fill="#03c595"/>
<rect x="214" y="293" width="2" height="1" fill="#03c595"/>
<rect x="218" y="293" width="2" height="1" fill="#03c595"/>
<rect x="222" y="293" width="2" height="1" fill="#03c595"/>
<rect x="226" y="293" width="2" height="1" fill="#03c595"/>
<rect x="230" y="293" width="2" height="1" fill="#03c595"/>
<rect x="234" y="293" width="2" height="1" fill="#03c595"/>
<rect x="238" y="293" width="2" height="1" fill="#03c595"/>
<rect x="242" y="293" width="2" height="1" fill="#03c595"/>
<rect x="246" y="293" width="2" height="1" fill="#03c595"/>
<rect x="250" y="293" width="2" height="1" fill="#03c595"/>
<rect x="254" y="293" width="2" height="1" fill="#03c595"/>
<rect x="258" y="293" width="2" height="1" fill="#03c595"/>
<rect x="262" y="293" width="2" height="1" fill="#03c595"/>
<rect x="266" y="293" width="2" height="1" fill="#03c595"/>
<rect x="270" y="293" width="2" height="1" fill="#03c595"/>
<rect x="274" y="293" width="2" height="1" fill="#03c595"/>
<rect x="278" y="293" width="2" height="1" fill="#03c595"/>
<rect x="282" y="293" width="2" height="1" fill="#03c595"/>
<rect x="286" y="293" width="2" height="1" fill="#03c595"/>
<rect x="290" y="293" width="2" height="1" fill="#03c595"/>
<rect x="294" y="293" width="2" height="1" fill="#03c595"/>
<rect x="298" y="293" width="2" height="1" fill="#03c595"/>
<rect x="302" y="293" width="2" height="1" fill="#03c595"/>
<rect x="306" y="293" width="2" height="1" fill="#03c595"/>
<rect x="310" y="293" width="2" height="1" fill="#03c595"/>
<rect x="314" y="293" width="2" height="1" fill="#03c595"/>
<rect x="318" y="293" width="2" height="1" fill="#03c595"/>
<rect x="322" y="293" width="2" height="1" fill="#03c595"/>
<rect x="326" y="293" width="2" height="1" fill="#03c595"/>
<rect x="330" y="293" width="2" height="1" fill="#03c595"/>
<rect x="334" y="293" width="2" height="1" fill="#03c595"/>
<rect x="338" y="293" width="2" height="1" fill="#03c595"/>
<rect x="342" y="293" width="2" height="1" fill="#03c595"/>
<rect x="346" y="293" width="2" height="1" fill="#03c595"/>
<rect x="350" y="293" width="2" height="1" fill="#03c595"/>
<rect x="354" y="293" width="2" height="1" fill="#03c595"/>
<rect x="358" y="293" width="2" height="1" fill="#03c595"/>
<rect x="362" y="293" width="2" height="1" fill="#03c595"/>
<rect x="366" y="293" width="2" height="1" fill="#03c595"/>
<rect x="370" y="293" width="2" height="1" fill="#03c595"/>
<rect x="374" y="293" width="2" height="1" fill="#03c595"/>
<rect x="378" y="293" width="2" height="1" fill="#03c595"/>
<rect x="382" y="293" width="2" height="1" fill="#03c595"/>
<rect x="386" y="293" width="2" height="1" fill="#03c595"/>
<rect x="390" y="293" width="2" height="1" fill="#03c595"/>
<rect x="394" y="293" width="2" height="1" fill="#03c595"/>
<rect x="398" y="293" width="2" height="1" fill="#03c595"/>
<rect x="402" y="293" width="2" height="1" fill="#03c595"/>
<rect x="406" y="293" width="2" height="1" fill="#03c595"/>
<rect x="410" y="293" width="2" height="1" fill="#03c595"/>
<rect x="414" y="293" width="2" height="1" fill="#03c595"/>
<rect x="418" y="293" width="2" height="1" fill="#03c595"/>
<rect x="422" y="293" width="2" height="1" fill="#03c595"/>
<rect x="426" y="293" width="2" height="1" fill="#03c595"/>
<rect x="430" y="293" width="2" height="1" fill="#03c595"/>
<rect x="434" y="293" width="2" height="1" fill="#03c595"/>
<rect x="438" y="293" width="2" height="1" fill="#03c595"/>
<rect x="442" y="293" width="2" height="1" fill="#03c595"/>
<rect x="446" y="293" width="2" height="1" fill="#03c595"/>
<rect x="450" y="293" width="2" height="1" fill="#03c595"/>
<rect x="454" y="293" width="2" height="1" fill="#03c595"/>
<rect x="458" y="293" width="2" height="1" fill="#03c595"/>
<rect x="462" y="293" width="2" height="1" fill="#03c595"/>
<rect x="466" y="293" width="2" height="1" fill="#03c595"/>
<rect x="470" y="293" width="2" height="1" fill="#03c595"/>
<rect x="474" y="293" width="2" height="1" fill="#03c595"/>
<rect x="478" y="293" width="2" height="1" fill="#03c595"/>
<rect x="482" y="293" width="2" height="1" fill="#03c595"/>
<rect x="486" y="293" width="2" height="1" fill="#03c595"/>
<rect x="490" y="293" width="2" height="1" fill="#03c595"/>
<rect x="494" y="293" width="2" height="1" fill="#03c595"/>
<rect x="498" y="293" width="2" height="1" fill="#03c595"/>
<rect x="502" y="293" width="2" height="1" fill="#03c595"/>
<rect x="506" y="293" width="2" height="1" fill="#03c595"/>
<rect x="510" y="293" width="2" height="1" fill="#03c595"/>
<rect x="514" y="293" width="2" height="1" fill="#03c595"/>
<rect x="518" y="293" width="2" height="1" fill="#03c595"/>
<rect x="522" y="293" width="2" height="1" fill="#03c595"/>
<rect x="526" y="293" width="2" height="1" fill="#03c595"/>
<rect x="530" y="293" width="2" height="1" fill="#03c595"/>
<rect x="534" y="293" width="2" height="1" fill="#03c595"/>
<rect x="538" y="293" width="2" height="1" fill="#03c595"/>
<rect x="542" y="293" width="2" height="1" fill="#03c595"/>
<rect x="546" y="293" width="2" height="1" fill="#03c595"/>
<rect x="550" y="293" width="2" height="1" fill="#03c595"/>
<rect x="554" y="293" width="2" height="1" fill="#03c595"/>
<rect x="558" y="293" width="2" height="1" fill="#03c595"/>
<rect x="562" y="293" width="2" height="1" fill="#03c595"/>
<rect x="566" y="293" width="2" height="1" fill="#03c595"/>
<rect x="570" y="293" width="2" height="1" fill="#03c595"/>
<rect x="574" y="293" width="2" height="1" fill="#03c595"/>
<rect x="578" y="293" width="2" height="1" fill="#03c595"/>
<rect x="582" y="293" width="2" height="1" fill="#03c595"/>
<rect x="586" y="293" width="2" height="1" fill="#03c595"/>
<rect x="590" y="293" width="2" height="1" fill="#03c595"/>
<rect x="594" y="293" width="2" height="1" fill="#03c595"/>
<rect x="598" y="293" width="2" height="1" fill="#03c595"/>
<rect x="602" y="293" width="2" height="1" fill="#03c595"/>
<rect x="606" y="293" width="2" height="1" fill="#03c595"/>
<rect x="610" y="293" width="2" height="1" fill="#03c595"/>
<rect x="614" y="293" width="2" height="1" fill="#03c595"/>
<rect x="618" y="293" width="2" height="1" fill="#03c595"/>
<rect x="622" y="293" width="2" height="1" fill="#03c595"/>
<rect x="626" y="293" width="2" height="1" fill="#03c595"/>
<rect x="630" y="293" width="2" height="1" fill="#03c595"/>
<rect x="634" y="293" width="2" height="1" fill="#03c595"/>
<rect x="638" y="293" width="2" height="1" fill="#03c595"/>
<rect x="642" y="293" width="2" height="1" fill="#03c595"/>
<rect x="646" y="293" width="2" height="1" fill="#03c595"/>
<rect x="650" y="293" width="2" height="1" fill="#03c595"/>
<rect x="654" y="293" width="2" height="1" fill="#03c595"/>
<rect x="658" y="293" width="2" height="1" fill="#03c595"/>
<rect x="662" y="293" width="2" height="1" fill="#03c595"/>
<rect x="666" y="293" width="2" height="1" fill="#03c595"/>
<rect x="670" y="293" width="2" height="1" fill="#03c595"/>
<rect x="674" y="293" width="2" height="1" fill="#03c595"/>
<rect x="678" y="293" width="2" height="1" fill="#03c595"/>
<rect x="682" y="293" width="2" height="1" fill="#03c595"/>
<rect x="686" y="293" width="2" height="1" fill="#03c595"/>
<rect x="690" y="293" width="2" height="1" fill="#03c595"/>
<rect x="694" y="293" width="2" height="1" fill="#03c595"/>
<rect x="698" y="293" width="2" height="1" fill="#03c595"/>
<rect x="702" y="293" width="2" height="1" fill="#03c595"/>
<rect x="706" y="293" width="2" height="1" fill="#03c595"/>
<rect x="710" y="293" width="2" height="1" fill="#03c595"/>
<rect x="10" y="412" width="703" height="1" fill="#383636"/>
<rect x="712" y="10" width="1" height="403" fill="#474747"/>
<path d="M712 285H782a2 2 0 0 1 2 2V300a2 2 0 0 1-2 2H712Z" fill="#03c595" shape-rendering="geometricPrecision"/>
</svg>
<div id="txt">
<div class="t h1" id="h1a" style="left:9.7px;letter-spacing:-0.1px">USD/</div>
<div class="t h1" id="h1c" style="left:42.7px;letter-spacing:0.32px">MOONCOIN</div>
<div class="t h1" id="h1d" style="left:128.2px;letter-spacing:0.39px">(solana)</div>
<div class="t" id="h1b">O: 0.00002563 - H: 0.00002563 - L: 0.00002274 - C: 0.00002314</div>
<div class="t" id="h2">Nov 2, 2025, 10:51 PM - Nov 4, 2025, 10:51 PM GMT</div>
<div id="sep"></div>
<div class="t" id="res">Resolution: 15m</div>
<div class="pl" style="top:17px">0.00002600</div><div class="pl" style="top:64px">0.00002550</div><div class="pl" style="top:111px">0.00002500</div><div class="pl" style="top:158px">0.00002450</div><div class="pl" style="top:205px">0.00002400</div><div class="pl" style="top:252px">0.00002350</div><div class="pl" style="top:299px">0.00002300</div><div class="pl" style="top:346px">0.00002250</div><div class="pl" style="top:393px">0.00002200</div>
<div id="cur">0.00002314</div>
<div class="tl b" style="left:-1px">3</div><div class="tl" style="left:86px">06:00</div><div class="tl" style="left:174px">12:00</div><div class="tl" style="left:261px">18:00</div><div class="tl b" style="left:348px">4</div><div class="tl" style="left:435px">06:00</div><div class="tl" style="left:523px">12:00</div><div class="tl" style="left:610px">18:00</div>
</div>
</body></html>
